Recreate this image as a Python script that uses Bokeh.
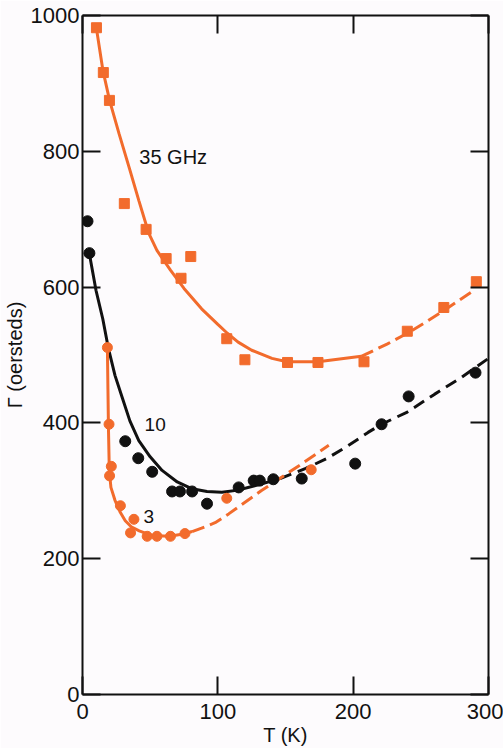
from bokeh.plotting import figure
from bokeh.models import Label, LinearAxis, FixedTicker, CustomJSTickFormatter
from bokeh.embed import file_html
from bokeh.resources import INLINE

ORANGE = "#f26b2c"
BLACK = "#111111"
BG = "#fdfbfd"
FONT = "Liberation Sans"

# ---- axis ticks ----
x_ticks = [0, 100, 200, 300]
y_ticks = [0, 200, 400, 600, 800, 1000]

# ---- 35 GHz (orange squares) ----
t35 = [10.3, 15.4, 19.9, 30.9, 47, 61.8, 72.8, 80, 106.6, 120, 151.5, 174, 208, 240, 267, 291]
g35 = [982, 916, 875, 723, 685, 642, 613, 645, 524, 493, 489, 489, 490, 535, 570, 608]
fit35_solid_t = [10, 15, 20, 27, 34.5, 41.7, 49, 55, 65, 75, 88, 100, 107, 115, 125, 140, 151, 174, 190, 206]
fit35_solid_g = [985, 920, 875, 826, 776, 727, 679, 654, 625, 598, 568, 545, 532, 519, 507, 495, 490, 490, 494, 498]
fit35_dash_t = [206, 225, 241, 255, 269, 289]
fit35_dash_g = [498, 516, 533, 550, 568, 595]

# ---- 10 GHz (black circles) ----
t10 = [3.7, 5.1, 31.6, 41.2, 51.5, 66.2, 72, 81, 92, 115.4, 126.5, 131, 141, 162, 201.5, 221, 241, 290.4]
g10 = [697, 650, 373, 348, 328, 299, 299, 299, 281, 305, 315, 315, 317, 318, 340, 398, 439, 474]
fit10_solid_t = [5, 10, 15, 19, 24, 29.4, 35, 41.6, 50, 58.8, 70, 81, 92, 103, 115, 130, 146]
fit10_solid_g = [650, 595, 553, 511, 470, 437, 403, 374, 350, 330, 313, 303, 299, 298, 301, 309, 318]
fit10_dash_t = [146, 165, 180, 196, 211, 221, 240, 260, 280, 300]
fit10_dash_g = [318, 333, 347, 366, 386, 398, 416, 442, 467, 495]

# ---- 3 GHz (orange circles) ----
t3 = [18.4, 19.6, 21.3, 20, 28, 38, 35.5, 47.8, 55, 65, 75.7, 106.6, 169]
g3 = [511, 398, 336, 322, 278, 258, 238, 233, 233, 233, 237, 289, 331]
fit3_solid_t = [18.4, 18.8, 19.2, 19.8, 21, 24, 28, 31.6, 36, 41.9, 51.5, 64, 73.5, 81]
fit3_solid_g = [511, 450, 390, 330, 305, 286, 268, 256, 247, 241, 234, 233, 236, 240]
fit3_dash_t = [81, 88, 98, 108, 132, 160, 182]
fit3_dash_g = [240, 245, 253, 266, 300, 337, 367]

p = figure(width=503, height=748, x_range=(0, 300), y_range=(0, 1000),
           output_backend="svg", toolbar_location=None,
           min_border_left=80, min_border_right=15, min_border_top=15, min_border_bottom=54,
           background_fill_color=BG, border_fill_color=BG)
p.grid.visible = False
p.outline_line_color = None


def style_axis(ax, ticks, show_labels, standoff):
    ax.ticker = FixedTicker(ticks=ticks)
    ax.major_tick_in = 18
    ax.major_tick_out = 0
    ax.minor_tick_line_color = None
    ax.axis_line_width = 2
    ax.axis_line_color = BLACK
    ax.major_tick_line_width = 2
    ax.major_tick_line_color = BLACK
    ax.major_label_standoff = standoff
    ax.axis_label_text_font = FONT
    ax.axis_label_text_font_style = "normal"
    ax.axis_label_text_color = BLACK
    ax.axis_label_text_font_size = "20px"
    if show_labels:
        ax.major_label_text_font = FONT
        ax.major_label_text_font_size = "22px"
        ax.major_label_text_color = BLACK
    else:
        ax.formatter = CustomJSTickFormatter(code="return ''")
        ax.major_label_text_font_size = "1px"
        ax.major_label_standoff = 0


style_axis(p.xaxis[0], x_ticks, True, 9)
style_axis(p.yaxis[0], y_ticks, True, 3)
p.xaxis[0].axis_label = "T (K)"
p.xaxis[0].axis_label_standoff = 2
p.yaxis[0].axis_label = "Γ (oersteds)"
p.yaxis[0].axis_label_standoff = 2
p.yaxis[0].axis_label_text_font_size = "20px"

right_ax = LinearAxis()
top_ax = LinearAxis()
style_axis(right_ax, y_ticks, False, 0)
style_axis(top_ax, x_ticks, False, 0)
p.add_layout(right_ax, "right")
p.add_layout(top_ax, "above")

# fit curves
LW = 3
p.line(fit35_solid_t, fit35_solid_g, line_color=ORANGE, line_width=LW)
p.line(fit35_dash_t, fit35_dash_g, line_color=ORANGE, line_width=LW, line_dash="13 6")
p.line(fit10_solid_t, fit10_solid_g, line_color=BLACK, line_width=LW)
p.line(fit10_dash_t, fit10_dash_g, line_color=BLACK, line_width=LW, line_dash="12 7")
p.line(fit3_solid_t, fit3_solid_g, line_color=ORANGE, line_width=LW)
p.line(fit3_dash_t, fit3_dash_g, line_color=ORANGE, line_width=LW, line_dash="13 6")

# data points
p.scatter(t35, g35, marker="square", size=10, fill_color=ORANGE, line_color=ORANGE)
p.scatter(t3, g3, marker="circle", size=10, fill_color=ORANGE, line_color=ORANGE)
p.scatter(t10, g10, marker="circle", size=11, fill_color=BLACK, line_color=BLACK)

# curve labels
for txt, xx, yy, fs in [("35 GHz", 67, 791, "20px"), ("10", 53.7, 398, "19px"), ("3", 49, 262, "19px")]:
    p.add_layout(Label(x=xx, y=yy, text=txt, text_font=FONT, text_font_size=fs,
                       text_align="center", text_baseline="middle", text_color=BLACK))

open("out.html", "w").write(file_html(p, INLINE))
